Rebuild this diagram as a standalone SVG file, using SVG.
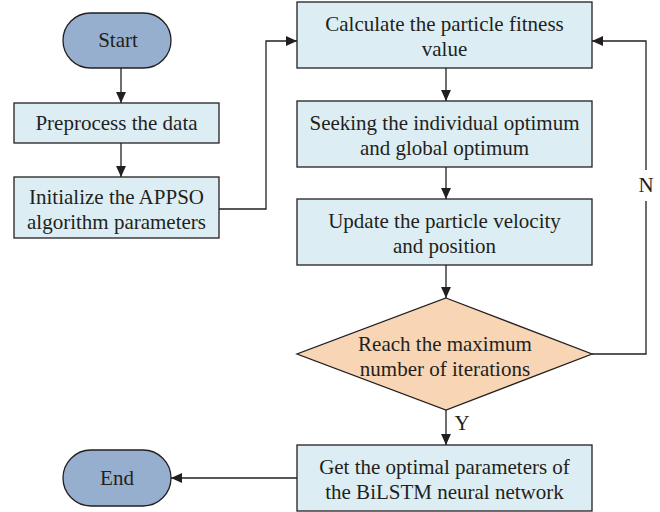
<svg xmlns="http://www.w3.org/2000/svg" width="660" height="512" viewBox="0 0 660 512">
<defs>
<marker id="ah" viewBox="0 0 10 10" refX="10" refY="5" markerWidth="11" markerHeight="11" markerUnits="userSpaceOnUse" orient="auto">
<path d="M0,0.5 L10,5 L0,9.5 z" fill="#231F20"/>
</marker>
<style>
.term{fill:#97AFCF;stroke:#231F20;stroke-width:1.3}
.box{fill:#DCEEF4;stroke:#231F20;stroke-width:1.3}
.dia{fill:#F8D5B5;stroke:#231F20;stroke-width:1.3}
text{font-family:"Liberation Serif","Times New Roman",serif;font-size:21px;fill:#231F20;text-anchor:middle}
.ln{fill:none;stroke:#231F20;stroke-width:1.3;marker-end:url(#ah)}
.pl{fill:none;stroke:#231F20;stroke-width:1.3}
</style>
</defs>
<rect width="660" height="512" fill="#fff"/>
<g id="connectors">
<line class="ln" x1="121" y1="68" x2="121" y2="103"/>
<line class="ln" x1="121" y1="143" x2="121" y2="177"/>
<polyline class="ln" points="219,209 266,209 266,41 297,41"/>
<line class="ln" x1="446" y1="68" x2="446" y2="101"/>
<line class="ln" x1="446" y1="167" x2="446" y2="199"/>
<line class="ln" x1="446" y1="265" x2="446" y2="298"/>
<polyline class="pl" points="592,354 646,354 646,201"/>
<polyline class="ln" points="646,170 646,41 592,41"/>
<line class="ln" x1="446" y1="410" x2="446" y2="445"/>
<line class="ln" x1="297" y1="478" x2="171" y2="478"/>
<text x="646" y="192">N</text>
<text x="462" y="430">Y</text>
</g>
<g id="start">
<rect class="term" x="63" y="13" width="108" height="55" rx="27.5"/>
<text x="118" y="47">Start</text>
</g>
<g id="preprocess">
<rect class="box" x="14" y="103" width="205" height="40"/>
<text x="116.5" y="130">Preprocess the data</text>
</g>
<g id="initialize">
<rect class="box" x="14" y="177" width="205" height="61"/>
<text x="116.5" y="204">Initialize the APPSO</text>
<text x="116.5" y="229">algorithm parameters</text>
</g>
<g id="calculate">
<rect class="box" x="297" y="2" width="295" height="66"/>
<text x="444.5" y="31">Calculate the particle fitness</text>
<text x="444.5" y="56">value</text>
</g>
<g id="seeking">
<rect class="box" x="297" y="101" width="295" height="66"/>
<text x="444.5" y="130">Seeking the individual optimum</text>
<text x="444.5" y="155">and global optimum</text>
</g>
<g id="update">
<rect class="box" x="297" y="199" width="295" height="66"/>
<text x="444.5" y="228">Update the particle velocity</text>
<text x="444.5" y="253">and position</text>
</g>
<g id="decision">
<polygon class="dia" points="446,298 592,354 446,410 297,354"/>
<text x="445" y="351">Reach the maximum</text>
<text x="445" y="376">number of iterations</text>
</g>
<g id="get">
<rect class="box" x="297" y="445" width="295" height="66"/>
<text x="444.5" y="474">Get the optimal parameters of</text>
<text x="444.5" y="499">the BiLSTM neural network</text>
</g>
<g id="end">
<rect class="term" x="63" y="450" width="108" height="56" rx="28"/>
<text x="117" y="485">End</text>
</g>
</svg>
